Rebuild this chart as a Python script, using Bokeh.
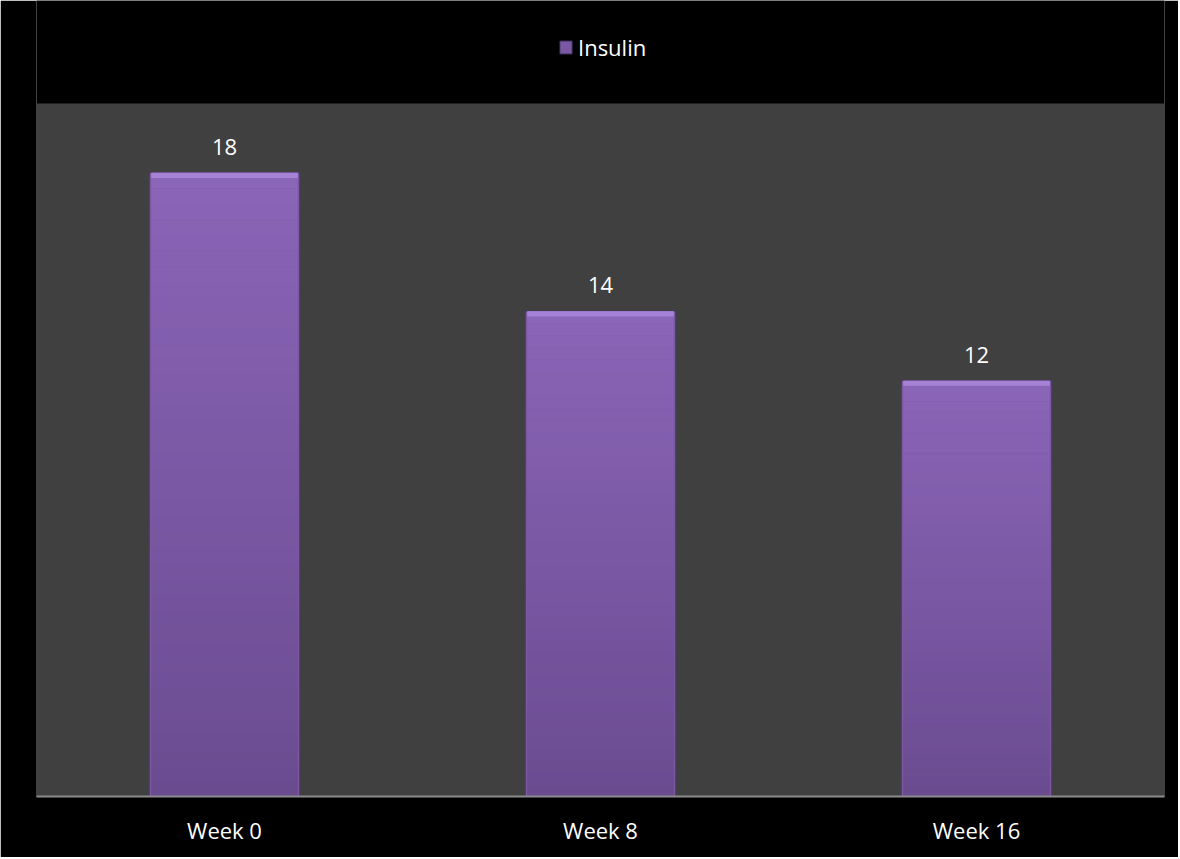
import numpy as np
from bokeh.plotting import figure
from bokeh.models import (ColumnDataSource, LabelSet, Legend, LegendItem, Range1d,
                          FactorRange, BoxAnnotation)
from bokeh.core.properties import value
from bokeh.embed import file_html
from bokeh.resources import INLINE

categories = ["Week 0", "Week 8", "Week 16"]
insulin = [18, 14, 12]
series_name = "Insulin"
y_max = 20

FONT = "Open Sans"

# the frame reaches the top of the canvas so that the legend can sit in it;
# the dark plot area is painted only up to y_max
p = figure(x_range=FactorRange(*categories, range_padding=0), y_range=Range1d(0, 22.97),
           width=1178, height=857, output_backend="svg", toolbar_location=None,
           min_border_left=36, min_border_right=14, min_border_top=0, min_border_bottom=61)
p.background_fill_color = "#000000"
p.border_fill_color = "#000000"
p.outline_line_color = None
p.grid.visible = False
p.yaxis.visible = False

p.add_layout(BoxAnnotation(bottom=0, top=y_max, fill_color="#404040", fill_alpha=1,
                           line_color=None, level="underlay"))

src = ColumnDataSource(dict(cat=categories, val=insulin, lab=[str(v) for v in insulin]))

# main bar (carries the legend)
main = p.vbar(x="cat", top="val", bottom=0, width=0.4, source=src,
              fill_color="#7A58A4", line_color="#4E3873", line_width=1)

# vertical gradient overlay computed from the values
n = 40
gx, gb, gt, gc = [], [], [], []
c_top = np.array([0x8B, 0x65, 0xB8])
c_bot = np.array([0x6A, 0x4B, 0x90])
for c, v in zip(categories, insulin):
    edges = np.linspace(0, v, n + 1)
    for i in range(n):
        f = (i + 0.5) / n
        col = c_bot + (c_top - c_bot) * f
        gx.append(c)
        gb.append(edges[i])
        gt.append(edges[i + 1])
        gc.append("#%02x%02x%02x" % tuple(int(round(x)) for x in col))
gsrc = ColumnDataSource(dict(x=gx, b=gb, t=gt, c=gc))
p.vbar(x="x", bottom="b", top="t", width=0.39, source=gsrc, fill_color="c", line_color=None)

# bevel highlight at the top of each bar
bev_b = [v - 0.15 for v in insulin]
bsrc = ColumnDataSource(dict(cat=categories, top=insulin, bottom=bev_b))
p.vbar(x="cat", top="top", bottom="bottom", width=0.39, source=bsrc,
       fill_color="#A683D6", line_color=None)

labels = LabelSet(x="cat", y="val", text="lab", source=src, y_offset=18,
                  text_align="center", text_baseline="alphabetic",
                  text_color="#FFFFFF", text_font=value(FONT), text_font_size="22px")
p.add_layout(labels)

ax = p.xaxis[0]
ax.axis_line_color = "#8C8C8C"
ax.axis_line_width = 2
ax.major_tick_line_color = None
ax.minor_tick_line_color = None
ax.major_label_text_color = "#FFFFFF"
ax.major_label_text_font = FONT
ax.major_label_text_font_size = "22px"
ax.major_label_standoff = 12

legend = Legend(items=[LegendItem(label=series_name, renderers=[main])],
                orientation="horizontal", location=(522, 734),
                background_fill_alpha=0,
                border_line_color=None, label_text_color="#FFFFFF",
                label_text_font=FONT, label_text_font_size="22px",
                glyph_width=15, glyph_height=16, label_standoff=5,
                padding=0, margin=0, spacing=0)
p.add_layout(legend)

open("out.html", "w").write(file_html(p, INLINE))
